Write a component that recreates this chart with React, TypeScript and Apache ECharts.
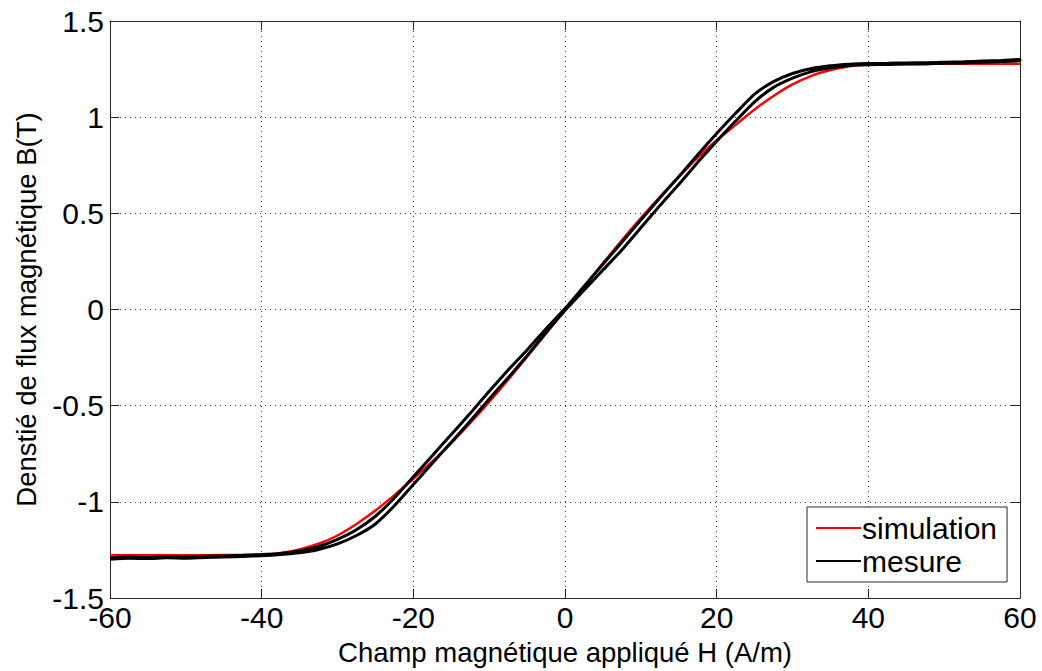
import React, { useEffect, useRef } from "react";
import * as echarts from "echarts";

// ---- Data ----
const xTicks = [-60, -40, -20, 0, 20, 40, 60];
const yTicks = [-1.5, -1, -0.5, 0, 0.5, 1, 1.5];

// simulation (red)
const simH = [-60, -55, -50, -45, -40, -37.5, -35, -32.5, -30, -27.5, -25, -22.5, -20, -17.5, -15, -12.5, -10, -7.5, -5, -2.5, 0, 2.5, 5, 7.5, 10, 12.5, 15, 17.5, 20, 22.5, 25, 27.5, 30, 32.5, 35, 37.5, 40, 45, 50, 55, 60];
const simB = [-1.278, -1.278, -1.278, -1.277, -1.275, -1.266, -1.247, -1.218, -1.175, -1.115, -1.045, -0.965, -0.88, -0.79, -0.695, -0.59, -0.48, -0.365, -0.245, -0.125, 0.0, 0.12, 0.24, 0.36, 0.475, 0.585, 0.69, 0.79, 0.88, 0.96, 1.04, 1.11, 1.17, 1.215, 1.245, 1.265, 1.275, 1.277, 1.278, 1.278, 1.278];

// mesure (black) – hysteresis loop, two branches
const measH = [-60, -57.5, -55, -52.5, -50, -47.5, -45, -42.5, -40, -37.5, -35, -32.5, -30, -27.5, -25, -22.5, -20, -17.5, -15, -12.5, -10, -7.5, -5, -2.5, 0, 2.5, 5, 7.5, 10, 12.5, 15, 17.5, 20, 22.5, 25, 27.5, 30, 32.5, 35, 37.5, 40, 42.5, 45, 47.5, 50, 52.5, 55, 57.5, 60];
const measUp = [-1.298, -1.293, -1.295, -1.291, -1.293, -1.289, -1.287, -1.284, -1.28, -1.274, -1.265, -1.248, -1.219, -1.175, -1.115, -1.02, -0.91, -0.8, -0.69, -0.58, -0.465, -0.355, -0.24, -0.12, -0.005, 0.1, 0.205, 0.31, 0.425, 0.54, 0.65, 0.765, 0.875, 0.98, 1.08, 1.155, 1.203, 1.237, 1.257, 1.269, 1.273, 1.274, 1.276, 1.277, 1.28, 1.282, 1.286, 1.289, 1.294];
const measDown = [-1.292, -1.287, -1.289, -1.285, -1.287, -1.283, -1.281, -1.278, -1.274, -1.268, -1.255, -1.232, -1.195, -1.145, -1.075, -0.98, -0.87, -0.76, -0.65, -0.54, -0.425, -0.315, -0.21, -0.1, 0.005, 0.12, 0.235, 0.35, 0.465, 0.58, 0.69, 0.805, 0.915, 1.02, 1.12, 1.185, 1.227, 1.253, 1.267, 1.275, 1.279, 1.28, 1.282, 1.283, 1.286, 1.288, 1.292, 1.295, 1.3];

const FONT = "'Liberation Sans', Arial, Helvetica, sans-serif";

export default function App() {
  const ref = useRef<HTMLDivElement>(null);
  useEffect(() => {
    if (!ref.current) return;
    const chart = echarts.init(ref.current, undefined, { renderer: "svg" });
    const simData = simH.map((h, i) => [h, simB[i]]);
    const loop: number[][] = [];
    measH.forEach((h, i) => loop.push([h, measUp[i]]));
    for (let i = measH.length - 1; i >= 0; i--) loop.push([measH[i], measDown[i]]);

    const tickStyle = { show: true, inside: true, length: 9, lineStyle: { color: "#262626", width: 1 } };
    const axisLine = { show: true, onZero: false, lineStyle: { color: "#262626", width: 1 } };
    const split = { show: true, lineStyle: { color: "#3a3a3a", type: [1, 4] as any, width: 1 } };

    chart.setOption({
      animation: false,
      backgroundColor: "#fff",
      textStyle: { fontFamily: FONT },
      grid: { left: 110, top: 21, right: 22, bottom: 73, show: false },
      legend: {
        orient: "vertical",
        left: 807,
        top: 507,
        padding: [6, 10, 6, 9],
        itemGap: 3,
        itemWidth: 45,
        itemHeight: 2,
        icon: "rect",
        backgroundColor: "#fff",
        borderColor: "#262626",
        borderWidth: 1,
        borderRadius: 0,
        textStyle: { fontSize: 30, color: "#000", fontFamily: FONT, padding: [0, 0, 0, -4] },
        data: ["simulation", "mesure"],
      },
      xAxis: [
        {
          type: "value",
          min: -60,
          max: 60,
          interval: 20,
          position: "bottom",
          name: "Champ magnétique appliqué H (A/m)",
          nameLocation: "middle",
          nameGap: 40,
          nameTextStyle: { fontSize: 27.5, color: "#000", fontFamily: FONT },
          axisLine,
          axisTick: tickStyle,
          axisLabel: { fontSize: 30, color: "#000", margin: 4, fontFamily: FONT },
          splitLine: split,
        },
        {
          type: "value",
          min: -60,
          max: 60,
          interval: 20,
          position: "top",
          axisLine,
          axisTick: tickStyle,
          axisLabel: { show: false },
          splitLine: { show: false },
        },
      ],
      yAxis: [
        {
          type: "value",
          min: -1.5,
          max: 1.5,
          interval: 0.5,
          position: "left",
          name: "Denstié de flux magnétique B(T)",
          nameLocation: "middle",
          nameGap: 70,
          nameTextStyle: { fontSize: 27.5, color: "#000", fontFamily: FONT },
          axisLine,
          axisTick: tickStyle,
          axisLabel: { fontSize: 30, color: "#000", margin: 6, fontFamily: FONT },
          splitLine: split,
        },
        {
          type: "value",
          min: -1.5,
          max: 1.5,
          interval: 0.5,
          position: "right",
          axisLine,
          axisTick: tickStyle,
          axisLabel: { show: false },
          splitLine: { show: false },
        },
      ],
      series: [
        {
          name: "simulation",
          type: "line",
          data: simData,
          showSymbol: false,
          symbol: "none",
          smooth: 0.3,
          color: "#ff0000",
          lineStyle: { color: "#ff0000", width: 2.5 },
          z: 2,
        },
        {
          name: "mesure",
          type: "line",
          data: loop,
          showSymbol: false,
          symbol: "none",
          smooth: 0.2,
          color: "#000000",
          lineStyle: { color: "#000000", width: 3 },
          z: 3,
        },
      ],
    });
    return () => chart.dispose();
  }, []);
  return (
    <div
      ref={ref}
      style={{ position: "fixed", left: 0, top: 0, width: 1042, height: 671, background: "#fff" }}
    />
  );
}
